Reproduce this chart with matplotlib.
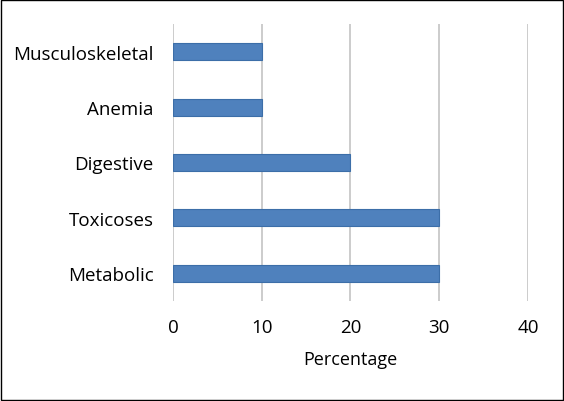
import matplotlib.pyplot as plt

# data
categories = ['Metabolic', 'Toxicoses', 'Digestive', 'Anemia', 'Musculoskeletal']
percentages = [30, 30, 20, 10, 10]
x_ticks = [0, 10, 20, 30, 40]

plt.rcParams['font.family'] = ['Open Sans', 'DejaVu Sans']

fig = plt.figure(figsize=(5.64, 4.02), dpi=100)
ax = fig.add_axes([0.3067, 0.2488, 0.6294, 0.689])

ax.barh(categories, percentages, height=0.31, color='#4F81BD',
        edgecolor='#3C6EA8', linewidth=0.8, zorder=3)

ax.set_xlim(0, 40)
ax.set_ylim(-0.5, len(categories) - 0.5)
ax.set_xticks(x_ticks)
ax.grid(axis='x', color='#C8C8C8', linewidth=1.3, zorder=0)
ax.tick_params(axis='both', length=0, labelsize=13.5, colors='black')
ax.tick_params(axis='x', pad=12)
ax.tick_params(axis='y', pad=14)
for s in ax.spines.values():
    s.set_visible(False)
ax.set_xlabel('Percentage', fontsize=13, labelpad=10)

# figure border
fig.patches.append(plt.Rectangle((0.002, 0.002), 0.996, 0.995, transform=fig.transFigure,
                                 fill=False, edgecolor='black', linewidth=1.0))

fig.savefig('out.png', dpi=100)
